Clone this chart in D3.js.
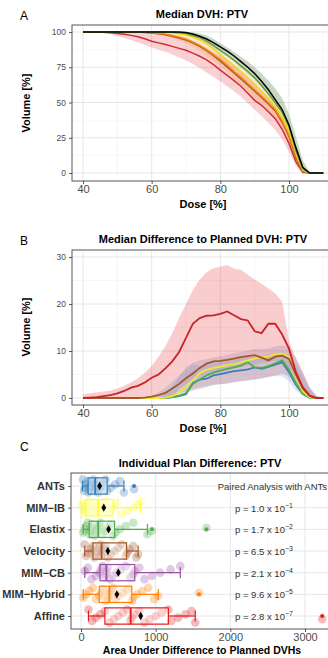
<!DOCTYPE html>
<html><head><meta charset="utf-8">
<script src="https://cdn.jsdelivr.net/npm/d3@7"></script>
<style>body{margin:0;background:#fff} svg{display:block;font-family:"Liberation Sans",Arial,sans-serif}</style>
</head><body><script>
// ---------------- DATA ----------------
const doseGrid = [40,42,44,46,48,50,52,54,56,58,60,62,64,66,68,70,72,74,76,78,80,82,84,86,88,90,92,94,96,98,100,102,104,106,108,110];

// Panel A: median DVH (volume %)
const dvhPlanned   = [100,100,100,100,100,100,100,100,100,100,100,100,100,100,100,99.6,98.6,97,95,92.5,89.5,86.5,83,79,75,70.5,65,59,52,45,34,18,4,0,0,0];
const dvhElastix   = [100,100,100,100,100,100,100,100,100,100,100,100,100,99.9,99.5,99,97.5,96,93.5,90.5,87,83.5,80,76,72,67.5,62,56,50,43,33,16,3,0,0,0];
const dvhMimIB     = [100,100,100,100,100,100,100,100,100,100,100,100,99.8,99.4,98.8,98,96.5,94.5,91.5,88,84,80,76,72,67.5,63,58,53,47,40,30,14,2,0,0,0];
const dvhHybrid    = [100,100,100,100,100,100,100,100,100,99.8,99.5,99,98.5,97.5,96.5,95,93,90.5,87.5,84,80.5,76.5,72,68,63.5,59,54.5,50,45,37,27,12,1.5,0,0,0];
const dvhVelocity  = [100,100,100,100,100,100,100,100,100,99.7,99.3,98.7,98,97,95.8,94.3,92.3,89.8,86.8,83.2,79.3,75.3,71,66.8,62.5,58,53.5,49,44,36,26,11,1,0,0,0];
const dvhAffine    = [100,100,99.9,99.8,99.5,99,98.4,97.6,96.6,95.2,93.5,92.3,91.1,89.8,88.4,87,85,82.8,80.2,76.8,73,69.3,65.5,61.5,56.5,51.5,48,43.5,38.5,31,21,8,0.5,0,0,0];
const dvhAffineLo  = [100,100,99.7,99.2,98.5,97,95.8,94.3,92.5,90.8,89,87.5,86,84,82,80,77.3,74.5,71.3,68.2,65,61.5,58,54,49.5,45,40.2,35.5,30.5,24,15,5,0,0,0,0];
const dvhAffineHi  = [100,100,100,100,100,100,100,100,99.9,99.7,99.3,98.8,98,97.2,96.2,95,93.2,91,88.5,85.8,83,79.5,75.8,72,67.5,63,58,53,48,40,31,16,3,0,0,0];
const dvhElastixLo = [100,100,100,100,100,100,100,100,100,100,100,100,100,99.7,99.2,98.5,96.8,95,92.2,89,86,82.5,78.8,74.5,70.2,66,60.7,55.5,48.5,42,31,15,2.5,0,0,0];
const dvhElastixHi = [100,100,100,100,100,100,100,100,100,100,100,100,100,100,100,100,99.7,99,97.5,95,92,89,85.8,82.5,79,75,70.5,65.5,60,53,42,26,9,0.5,0,0];
const dvhHybridLo  = [100,100,100,100,100,100,100,100,99.8,99.5,99,98.2,97,95.8,94,92,89.7,86.5,83,79.5,76,71.5,67,62.7,58,53,48.3,43.5,38.5,31,22,8,0.5,0,0,0];
const dvhHybridHi  = [100,100,100,100,100,100,100,100,100,100,100,100,100,99.8,99.3,98.5,97,95,92.5,89.5,86,82,78,74,70,65.5,60.5,55,49,42,33,17,3,0,0,0];

// Panel B: median difference to planned DVH (volume %)
const diffAffine   = [0,0.1,0.2,0.4,0.6,1.0,1.5,2.2,2.6,3.3,4.3,5.0,6.3,7.8,9.8,12.8,15.8,17,17.5,17.6,17.9,18.4,17.6,16.8,16.5,14.2,13.8,15.8,15.8,13.5,10.5,5.5,2.3,0.5,0,0];
const diffVelocity = [0,0,0,0,0,0,0,0,0,0.1,0.3,0.6,1.1,2.0,3.0,4.2,5.2,6.4,7.3,7.8,7.9,8.1,8.4,8.7,8.9,9.1,8.6,8.0,8.8,9.0,8.3,5.0,2.0,0.5,0,0];
const diffMimIB    = [0,0,0,0,0,0,0,0,0,0,0,0,0.1,0.4,1.2,2.4,3.8,5.3,6.0,6.4,6.7,7.0,7.2,7.6,8.0,8.4,8.7,8.9,9.3,9.5,8.8,4.8,1.4,0.2,0,0];
const diffElastix  = [0,0,0,0,0,0,0,0,0,0,0,0,0,0.2,0.5,1.0,3.0,4.0,4.8,5.4,5.8,6.2,6.5,6.9,7.6,6.5,6.4,6.8,7.4,8.0,6.0,3.2,1.0,0.1,0,0];
const diffAnts     = [0,0,0,0,0,0,0,0,0,0,0,0,0,0.2,0.4,0.8,3.2,3.9,4.1,4.8,5.1,5.4,5.7,5.9,6.1,6.5,6.2,6.6,7.1,7.6,5.5,2.8,0.9,0.1,0,0];
const diffAffineLo = [0,0,0,0,0,0,0,0,0,0,0,0,0.1,0.5,1.0,1.4,1.8,2.2,2.5,2.8,3.0,3.1,3.4,3.6,3.8,4.0,4.2,4.5,4.8,5.2,4.6,2.5,1.0,0.2,0,0];
const diffAffineHi = [0.8,1.0,1.2,1.4,1.6,2.0,2.6,3.3,4.2,5.3,6.8,8.8,11.0,13.8,17.0,20.0,23.0,25.2,26.8,27.6,27.9,28.3,27.5,27.3,26.2,25.2,24.3,23.3,22.3,20.5,12,8.5,5.5,2,0.3,0];
const diffAntsLo   = [0,0,0,0,0,0,0,0,0,0,0,0,0,0.3,0.7,1.1,1.5,1.9,2.3,2.7,2.9,3.1,3.3,3.5,3.7,3.9,4.1,4.4,4.7,4.6,3.5,1.6,0.5,0,0,0];
const diffAntsHi   = [0,0,0,0,0,0,0,0,0,0,0.5,1.2,2.2,3.5,4.8,6.0,7.2,6.8,7.2,7.5,7.7,7.9,8.1,8.4,8.6,8.8,9.0,9.3,9.6,9.8,9.2,7.0,4.5,2.0,0.5,0];
const diffMimCBLo  = [0,0,0,0,0,0,0,0,0,0,0,0,0,0,2.0,3.0,4.0,4.5,5.0,5.3,5.6,6.0,6.3,6.6,6.9,7.1,7.4,7.6,7.8,7.8,6.5,4.5,2.0,0.5,0,0];
const diffMimCBHi  = [0,0,0,0,0,0,0,0,0,0,0,0,1.0,2.5,4.5,6.5,7.5,8.0,8.3,8.6,8.9,9.2,9.5,9.8,10.1,10.4,10.4,10.5,11.0,11.2,10.8,8.5,5.5,2.5,0.5,0];

// Panel C: individual plan differences
const cats = ["ANTs","MIM\u2212IB","Elastix","Velocity","MIM\u2212CB","MIM\u2212Hybrid","Affine"];
const ptsANTs     = [25,40,55,70,85,100,115,130,150,165,180,190,200,215,230,250,270,300,330,350,400,460,520,575,710];
const ptsMimIB    = [10,20,35,50,65,80,100,120,150,180,210,230,250,280,300,330,360,400,430,480,550,620,700,760,800];
const ptsElastix  = [30,50,70,90,110,125,140,160,180,200,220,240,260,290,320,350,390,430,460,520,600,700,890,950,1680];
const ptsVelocity = [50,70,100,130,160,180,200,220,240,260,270,280,300,330,360,400,450,500,550,600,620,650,700,740,765];
const ptsMimCB    = [50,90,140,200,250,270,290,310,330,340,360,390,430,480,530,600,660,700,720,780,850,950,1060,1200,1330];
const ptsHybrid   = [30,70,110,160,200,245,270,300,330,360,380,400,430,460,500,560,620,680,700,750,820,900,980,1035,1580];
const ptsAffine   = [100,150,200,260,320,380,440,500,560,620,660,680,720,780,850,920,1000,1080,1170,1210,1300,1400,1480,1530,3230];
const boxLow   = [20,10,30,50,50,30,100];
const boxQ1    = [95,60,110,160,255,245,320];
const boxMed   = [190,230,230,275,340,380,665];
const boxQ3    = [350,430,450,610,720,680,1170];
const boxHigh  = [575,800,890,765,1330,1035,1530];
const boxMean  = [250,305,370,360,500,480,800];
const pMant    = ["1.0","1.7","6.5","2.1","9.6","2.8"];
const pExp     = ["\u22121","\u22122","\u22123","\u22124","\u22125","\u22127"];
const xTicksDose = [40,60,80,100];
const xTicksArea = [0,1000,2000,3000];

// ---------------- STYLE ----------------
const catColors = ["#377EB8","#FFFF33","#4DAF4A","#A65628","#984EA3","#FF7F00","#E41A1C"];
const W = 328, H = 658;
const svg = d3.select("body").append("svg").attr("width", W).attr("height", H);
svg.append("rect").attr("width", W).attr("height", H).attr("fill", "#fff");

function styleAxis(g, size, col) {
  g.select(".domain").remove();
  g.selectAll(".tick line").attr("stroke", "#333").attr("stroke-width", 0.8);
  g.selectAll(".tick text").attr("fill", col || "#4D4D4D").attr("font-size", size).attr("font-family", "Liberation Sans, Arial, sans-serif");
}
function txt(x, y, s, size, opts = {}) {
  const t = svg.append("text").attr("x", x).attr("y", y).text(s)
    .attr("font-size", size).attr("fill", opts.fill || "#000")
    .attr("font-weight", opts.bold ? "bold" : "normal")
    .attr("text-anchor", opts.anchor || "middle");
  if (opts.rotate) t.attr("transform", `rotate(-90,${x},${y})`);
  return t;
}
function frame(id, r) {
  svg.append("clipPath").attr("id", id).append("rect")
    .attr("x", r.left).attr("y", r.top).attr("width", r.right - r.left).attr("height", r.bottom - r.top);
  return svg.append("g").attr("clip-path", `url(#${id})`);
}
function gridLines(g, r, xs, xMinor, ys, yMinor, x, y) {
  g.selectAll(null).data(xMinor).join("line").attr("x1", d => x(d)).attr("x2", d => x(d))
    .attr("y1", r.top).attr("y2", r.bottom).attr("stroke", "#F2F2F2").attr("stroke-width", 0.6);
  g.selectAll(null).data(yMinor).join("line").attr("y1", d => y(d)).attr("y2", d => y(d))
    .attr("x1", r.left).attr("x2", r.right).attr("stroke", "#F2F2F2").attr("stroke-width", 0.6);
  g.selectAll(null).data(xs).join("line").attr("x1", d => x(d)).attr("x2", d => x(d))
    .attr("y1", r.top).attr("y2", r.bottom).attr("stroke", "#E6E6E6").attr("stroke-width", 1);
  g.selectAll(null).data(ys).join("line").attr("y1", d => y(d)).attr("y2", d => y(d))
    .attr("x1", r.left).attr("x2", r.right).attr("stroke", "#E6E6E6").attr("stroke-width", 1);
}
function border(r) {
  svg.append("rect").attr("x", r.left).attr("y", r.top).attr("width", r.right - r.left)
    .attr("height", r.bottom - r.top).attr("fill", "none").attr("stroke", "#555").attr("stroke-width", 1);
}

// ---------------- PANEL A ----------------
const rA = {left: 72, right: 345, top: 25, bottom: 181};
const xA = d3.scaleLinear().domain([40, 100]).range([83, 289]);
const yA = d3.scaleLinear().domain([0, 100]).range([173, 32]);
const gA = frame("clipA", rA);
gridLines(gA, rA, [40,60,80,100], [50,70,90,110], [0,25,50,75,100], [12.5,37.5,62.5,87.5], xA, yA);
const areaA = (lo, hi) => d3.area().x((d, i) => xA(doseGrid[i])).y0((d, i) => yA(lo[i])).y1((d, i) => yA(hi[i]))(doseGrid);
const lineA = v => d3.line().x((d, i) => xA(doseGrid[i])).y((d, i) => yA(v[i]))(doseGrid);
gA.append("path").attr("d", areaA(dvhAffineLo, dvhAffineHi)).attr("fill", "#E41A1C").attr("opacity", 0.2);
gA.append("path").attr("d", areaA(dvhHybridLo, dvhHybridHi)).attr("fill", "#FF7F00").attr("opacity", 0.2);
gA.append("path").attr("d", areaA(dvhElastixLo, dvhElastixHi)).attr("fill", "#4F7A3A").attr("opacity", 0.3);
[[dvhAffine, "#D32A35"], [dvhVelocity, "#A65628"], [dvhHybrid, "#F08A10"], [dvhMimIB, "#F2D51C"], [dvhElastix, "#5E9F3E"], [dvhPlanned, "#000"]]
  .forEach(([v, c]) => gA.append("path").attr("d", lineA(v)).attr("fill", "none").attr("stroke", c).attr("stroke-width", 1.5));
border(rA);
svg.append("g").attr("transform", `translate(0,${rA.bottom})`)
  .call(d3.axisBottom(xA).tickValues(xTicksDose).tickSize(3).tickPadding(1)).call(g => styleAxis(g, 11));
svg.append("g").attr("transform", `translate(${rA.left},0)`)
  .call(d3.axisLeft(yA).tickValues([0,25,50,75,100]).tickSize(3).tickPadding(3)).call(g => styleAxis(g, 8.5));
txt(20, 20, "A", 12, {anchor: "start"});
txt(202, 18, "Median DVH: PTV", 11, {bold: true});
txt(203, 208, "Dose [%]", 11, {bold: true});
txt(30, 103, "Volume [%]", 11, {bold: true, rotate: true});

// ---------------- PANEL B ----------------
const rB = {left: 72, right: 345, top: 250, bottom: 405};
const xB = d3.scaleLinear().domain([40, 100]).range([83, 289]);
const yB = d3.scaleLinear().domain([0, 30]).range([398, 257]);
const gB = frame("clipB", rB);
gridLines(gB, rB, [40,60,80,100], [50,70,90,110], [0,10,20,30], [5,15,25], xB, yB);
const areaB = (lo, hi) => d3.area().x((d, i) => xB(doseGrid[i])).y0((d, i) => yB(lo[i])).y1((d, i) => yB(hi[i]))(doseGrid);
const lineB = v => d3.line().x((d, i) => xB(doseGrid[i])).y((d, i) => yB(v[i]))(doseGrid);
gB.append("path").attr("d", areaB(diffAffineLo, diffAffineHi)).attr("fill", "#E41A1C").attr("opacity", 0.22);
gB.append("path").attr("d", areaB(diffMimCBLo, diffMimCBHi)).attr("fill", "#7E6FA8").attr("opacity", 0.22);
gB.append("path").attr("d", areaB(diffAntsLo, diffAntsHi)).attr("fill", "#6A9FD0").attr("opacity", 0.25);
[[diffAnts, "#3A7CC0"], [diffElastix, "#4DAF4A"], [diffMimIB, "#F0E630"], [diffVelocity, "#A65628"], [diffAffine, "#C8232B"]]
  .forEach(([v, c]) => gB.append("path").attr("d", lineB(v)).attr("fill", "none").attr("stroke", c).attr("stroke-width", 1.8));
border(rB);
svg.append("g").attr("transform", `translate(0,${rB.bottom})`)
  .call(d3.axisBottom(xB).tickValues(xTicksDose).tickSize(3).tickPadding(1)).call(g => styleAxis(g, 11));
svg.append("g").attr("transform", `translate(${rB.left},0)`)
  .call(d3.axisLeft(yB).tickValues([0,10,20,30]).tickSize(3).tickPadding(3)).call(g => styleAxis(g, 8.5));
txt(20, 245, "B", 12, {anchor: "start"});
txt(203, 243, "Median Difference to Planned DVH: PTV", 11, {bold: true});
txt(203, 432, "Dose [%]", 11, {bold: true});
txt(30, 327, "Volume [%]", 11, {bold: true, rotate: true});

// ---------------- PANEL C ----------------
const rC = {left: 71, right: 345, top: 473, bottom: 629};
const xC = d3.scaleLinear().domain([0, 3000]).range([81, 305]);
const yC = d3.scalePoint().domain(cats).range([rC.top, rC.bottom]).padding(0.6);
const step = yC.step();
const gC = frame("clipC", rC);
gridLines(gC, rC, xTicksArea, [500,1500,2500,3500], [], [], xC, yC);
gC.selectAll(null).data(cats).join("line").attr("y1", d => yC(d)).attr("y2", d => yC(d))
  .attr("x1", rC.left).attr("x2", rC.right).attr("stroke", "#E6E6E6").attr("stroke-width", 1);
const allPts = [ptsANTs, ptsMimIB, ptsElastix, ptsVelocity, ptsMimCB, ptsHybrid, ptsAffine];
allPts.forEach((arr, k) => {
  const cy = yC(cats[k]);
  gC.selectAll(null).data(arr).join("circle")
    .attr("cx", d => xC(d))
    .attr("cy", (d, i) => cy + (((i * 7 + k * 3) % 9) - 4) / 4 * 0.3 * step)
    .attr("r", 4.3).attr("fill", catColors[k]).attr("opacity", 0.3);
});
cats.forEach((c, k) => {
  const cy = yC(c), col = catColors[k], bh = 0.75 * step, ch = 0.5 * step;
  const g = gC.append("g");
  g.append("line").attr("x1", xC(boxLow[k])).attr("x2", xC(boxQ1[k])).attr("y1", cy).attr("y2", cy).attr("stroke", col).attr("stroke-width", 1.2);
  g.append("line").attr("x1", xC(boxQ3[k])).attr("x2", xC(boxHigh[k])).attr("y1", cy).attr("y2", cy).attr("stroke", col).attr("stroke-width", 1.2);
  [boxLow[k], boxHigh[k]].forEach(v => g.append("line").attr("x1", xC(v)).attr("x2", xC(v)).attr("y1", cy - ch / 2).attr("y2", cy + ch / 2).attr("stroke", col).attr("stroke-width", 1.2));
  g.append("rect").attr("x", xC(boxQ1[k])).attr("y", cy - bh / 2).attr("width", xC(boxQ3[k]) - xC(boxQ1[k])).attr("height", bh)
    .attr("fill", "#fff").attr("fill-opacity", 0.35).attr("stroke", col).attr("stroke-width", 1.2);
  g.append("line").attr("x1", xC(boxMed[k])).attr("x2", xC(boxMed[k])).attr("y1", cy - bh / 2).attr("y2", cy + bh / 2).attr("stroke", col).attr("stroke-width", 1.8);
  allPts[k].filter(v => v > boxHigh[k] || v < boxLow[k]).forEach(v =>
    g.append("circle").attr("cx", xC(v)).attr("cy", cy).attr("r", 2).attr("fill", col));
  g.append("path").attr("d", d3.symbol(d3.symbolDiamond, 20)()).attr("transform", `translate(${xC(boxMean[k])},${cy})`).attr("fill", "#000");
});
border(rC);
svg.append("g").attr("transform", `translate(0,${rC.bottom})`)
  .call(d3.axisBottom(xC).tickValues(xTicksArea).tickFormat(d3.format("d")).tickSize(3).tickPadding(1)).call(g => styleAxis(g, 11));
svg.append("g").attr("transform", `translate(${rC.left},0)`)
  .call(d3.axisLeft(yC).tickSize(3).tickPadding(3)).call(g => { styleAxis(g, 11, "#333"); g.selectAll(".tick text").attr("font-weight", "bold"); });
svg.append("text").attr("x", 327).attr("y", yC(cats[0]) + 3.5).attr("text-anchor", "end")
  .attr("font-size", 9.5).attr("fill", "#333").text("Paired Analysis with ANTs");
pMant.forEach((m, i) => {
  const t = svg.append("text").attr("x", 235).attr("y", yC(cats[i + 1]) + 4).attr("font-size", 9.5).attr("fill", "#333");
  t.append("tspan").text(`p = ${m} x 10`);
  t.append("tspan").attr("dy", -4).attr("font-size", 7).text(pExp[i]);
});
txt(20, 451, "C", 12, {anchor: "start"});
txt(200, 467, "Individual Plan Difference: PTV", 11, {bold: true});
txt(202, 654, "Area Under Difference to Planned DVHs", 10.5, {bold: true});
</script></body></html>
